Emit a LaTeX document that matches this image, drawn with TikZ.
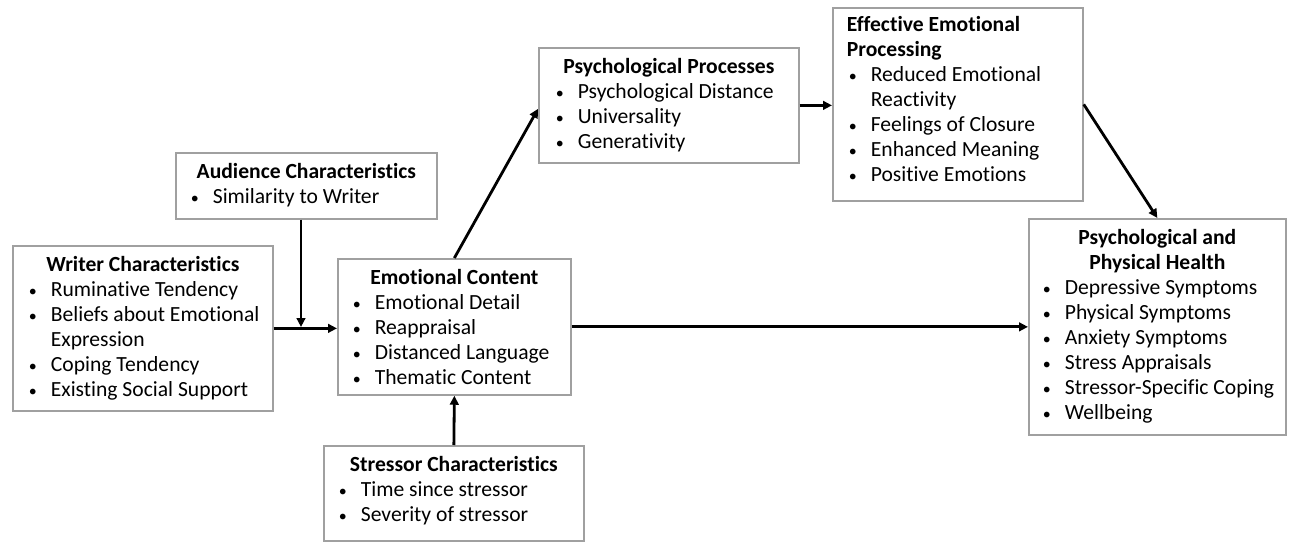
\documentclass[tikz,border=0pt]{standalone}
\usepackage{fontspec}
\setmainfont{Carlito}[Ligatures={NoCommon,NoContextual}]
\usetikzlibrary{arrows.meta,calc}
\newlength{\px}\setlength{\px}{0.75pt}
\definecolor{boxgray}{RGB}{160,160,160}
\newcommand{\Bul}{\raisebox{0.5pt}{\fontsize{12pt}{12pt}\selectfont •}}
\newcommand{\TitleC}[2][26]{\hbox to \linewidth{\hss\bfseries\rule{0pt}{#1\px}#2\hss}}
\newcommand{\TitleL}[2][26]{\hbox to \linewidth{\hspace*{14\px}\bfseries\rule{0pt}{#1\px}#2\hss}}
\newcommand{\Item}[2][16]{\hbox to \linewidth{\hspace*{#1\px}\makebox[22\px][l]{\Bul}#2\hss}}
\newcommand{\Cont}[2][16]{\hbox to \linewidth{\hspace*{#1\px}\hspace*{22\px}#2\hss}}
\newcommand{\BoxText}[3]{\parbox[t][#2\px][t]{#1\px}{#3}}
\begin{document}
\begin{tikzpicture}[x=0.75pt,y=-0.75pt,
  box/.style={draw=boxgray,line width=1.3pt,inner sep=0pt,anchor=north west,
    font=\fontsize{16.2pt}{18.75pt}\selectfont},
  arr/.style={line width=2.1pt,-{Triangle[length=6.75pt,width=6.5pt]}}]
\useasboundingbox (0,0) rectangle (1290,542);

\node[box] (aud) at (175,152) {\BoxText{261}{66}{%
  \TitleC{Audience Characteristics}
  \Item[15]{Similarity to Writer}}};

\node[box] (wr) at (12,245) {\BoxText{260}{165}{%
  \TitleC{Writer Characteristics}
  \Item{Ruminative Tendency}
  \Item{Beliefs about Emotional}
  \Cont{Expression}
  \Item{Coping Tendency}
  \Item{Existing Social Support}}};

\node[box] (emo) at (337,258) {\BoxText{233}{136}{%
  \TitleC{Emotional Content}
  \Item[15]{Emotional Detail}
  \Item[15]{Reappraisal}
  \Item[15]{Distanced Language}
  \Item[15]{Thematic Content}}};

\node[box] (psy) at (538,47) {\BoxText{260}{115}{%
  \TitleC{Psychological Processes}
  \Item[17]{Psychological Distance}
  \Item[17]{Universality}
  \Item[17]{Generativity}}};

\node[box] (eff) at (832,7) {\BoxText{250}{193}{%
  \TitleL[24]{Effective Emotional}
  \TitleL[0]{Processing}
  \Item{Reduced Emotional}
  \Cont{Reactivity}
  \Item{Feelings of Closure}
  \Item{Enhanced Meaning}
  \Item{Positive Emotions}}};

\node[box] (hlth) at (1028,218) {\BoxText{257}{216}{%
  \TitleC{Psychological and}
  \TitleC[0]{Physical Health}
  \Item[14]{Depressive Symptoms}
  \Item[14]{Physical Symptoms}
  \Item[14]{Anxiety Symptoms}
  \Item[14]{Stress Appraisals}
  \Item[14]{Stressor-Specific Coping}
  \Item[14]{Wellbeing}}};

\node[box] (str) at (323,445) {\BoxText{260}{95}{%
  \TitleC{Stressor Characteristics}
  \Item[15]{Time since stressor}
  \Item[15]{Severity of stressor}}};

\coordinate (j) at (301,327);
\coordinate (psyin) at ($(psy.west)+(0,3.5)$);

\draw[arr] (wr.east) -- (emo.west |- wr.east);
\draw[arr] (aud.south -| j) -- (j);
\draw[arr] (emo.north) -- (psyin);
\draw[arr] (psy.east) -- (eff.west |- psy.east);
\draw[arr] (eff.east) -- (hlth.north);
\draw[arr] (emo.east) -- (hlth.west |- emo.east);
\draw[arr] (str.north) -- (emo.south);
\end{tikzpicture}
\end{document}
